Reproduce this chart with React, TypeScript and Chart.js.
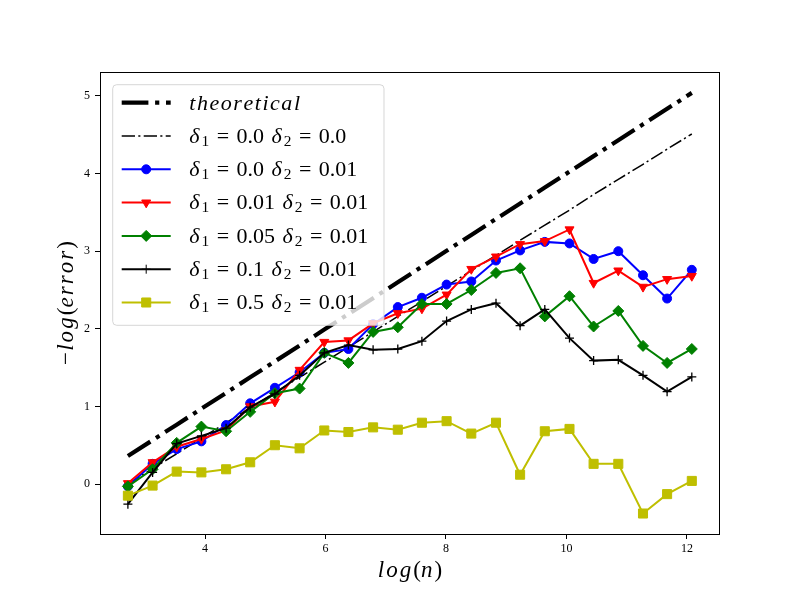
import React, { useEffect, useRef } from 'react';
import { Chart, registerables } from 'chart.js';

Chart.register(...registerables);

// ---- data ----
const logN = [2.72, 3.13, 3.53, 3.94, 4.35, 4.75, 5.16, 5.57, 5.98, 6.38, 6.79, 7.2, 7.6, 8.01, 8.42, 8.83, 9.23, 9.64, 10.05, 10.45, 10.86, 11.27, 11.67, 12.08];
const theoretical = [0.36, 0.565, 0.765, 0.97, 1.175, 1.375, 1.58, 1.785, 1.99, 2.19, 2.395, 2.6, 2.8, 3.005, 3.21, 3.415, 3.615, 3.82, 4.025, 4.225, 4.43, 4.635, 4.835, 5.04];
const d1_0_d2_0 = [0.0, 0.2, 0.39, 0.59, 0.79, 0.98, 1.18, 1.375, 1.57, 1.765, 1.96, 2.16, 2.35, 2.55, 2.75, 2.945, 3.14, 3.335, 3.53, 3.73, 3.925, 4.12, 4.315, 4.51];
const d1_0_d2_001 = [-0.03, 0.26, 0.45, 0.55, 0.76, 1.04, 1.24, 1.44, 1.69, 1.74, 2.06, 2.28, 2.4, 2.57, 2.61, 2.88, 3.01, 3.12, 3.1, 2.9, 3.0, 2.69, 2.39, 2.76];
const d1_001_d2_001 = [0.01, 0.28, 0.48, 0.58, 0.69, 1.0, 1.06, 1.47, 1.83, 1.85, 2.07, 2.2, 2.26, 2.44, 2.77, 2.93, 3.09, 3.13, 3.28, 2.59, 2.75, 2.54, 2.64, 2.68];
const d1_005_d2_001 = [-0.03, 0.19, 0.53, 0.74, 0.68, 0.93, 1.17, 1.23, 1.69, 1.56, 1.96, 2.02, 2.32, 2.32, 2.5, 2.72, 2.78, 2.16, 2.42, 2.03, 2.23, 1.78, 1.56, 1.74];
const d1_01_d2_001 = [-0.26, 0.15, 0.52, 0.62, 0.72, 0.99, 1.16, 1.4, 1.69, 1.79, 1.73, 1.74, 1.84, 2.1, 2.25, 2.33, 2.04, 2.25, 1.88, 1.59, 1.6, 1.4, 1.19, 1.38];
const d1_05_d2_001 = [-0.15, -0.02, 0.16, 0.15, 0.19, 0.28, 0.5, 0.46, 0.69, 0.67, 0.73, 0.7, 0.79, 0.81, 0.65, 0.79, 0.12, 0.68, 0.71, 0.26, 0.26, -0.38, -0.13, 0.04];

const xTickValues = [4, 6, 8, 10, 12];
const yTickValues = [0, 1, 2, 3, 4, 5];
const delta1Labels = ['0.0', '0.0', '0.01', '0.05', '0.1', '0.5'];
const delta2Labels = ['0.0', '0.01', '0.01', '0.01', '0.01', '0.01'];

const FONT = '"Liberation Serif", "DejaVu Serif", serif';

type Seg = { t: string; it?: boolean; sub?: boolean; pre?: number; post?: number };

function segFont(s: Seg, size: number) {
  return `${s.it ? 'italic ' : ''}${s.sub ? size * 0.7 : size}px ${FONT}`;
}
function segWidth(ctx: CanvasRenderingContext2D, s: Seg, size: number) {
  ctx.font = segFont(s, size);
  const ls = s.it ? 0.09 * size : 0;
  let w = 0;
  for (const ch of s.t) w += ctx.measureText(ch).width + ls;
  return w + ((s.pre || 0) + (s.post || 0)) * size;
}
function drawSegs(ctx: CanvasRenderingContext2D, segs: Seg[], x: number, y: number, size: number, align: 'left' | 'center', ls0 = 0.09) {
  let total = 0;
  for (const s of segs) total += segWidth(ctx, s, size);
  let cx = align === 'center' ? x - total / 2 : x;
  ctx.textAlign = 'left';
  ctx.textBaseline = 'alphabetic';
  ctx.fillStyle = '#000';
  for (const s of segs) {
    ctx.font = segFont(s, size);
    const ls = s.it ? ls0 * size : 0;
    cx += (s.pre || 0) * size;
    const yy = s.sub ? y + 0.13 * size : y;
    for (const ch of s.t) {
      ctx.fillText(ch, cx, yy);
      cx += ctx.measureText(ch).width + ls;
    }
    cx += (s.post || 0) * size;
  }
}

function drawMarker(ctx: CanvasRenderingContext2D, style: string, x: number, y: number, r: number, color: string) {
  ctx.save();
  ctx.fillStyle = color;
  ctx.strokeStyle = color;
  ctx.lineWidth = 1;
  ctx.setLineDash([]);
  ctx.beginPath();
  if (style === 'circle') {
    ctx.arc(x, y, r, 0, Math.PI * 2);
    ctx.fill();
    ctx.stroke();
  } else if (style === 'triangleDown') {
    ctx.moveTo(x, y + r);
    ctx.lineTo(x - r * 0.866, y - r * 0.5);
    ctx.lineTo(x + r * 0.866, y - r * 0.5);
    ctx.closePath();
    ctx.fill();
    ctx.stroke();
  } else if (style === 'diamond') {
    ctx.moveTo(x, y - r);
    ctx.lineTo(x + r, y);
    ctx.lineTo(x, y + r);
    ctx.lineTo(x - r, y);
    ctx.closePath();
    ctx.fill();
    ctx.stroke();
  } else if (style === 'rect') {
    const s = r * Math.SQRT1_2;
    ctx.rect(x - s, y - s, 2 * s, 2 * s);
    ctx.fill();
    ctx.stroke();
  } else if (style === 'cross') {
    ctx.moveTo(x, y - r);
    ctx.lineTo(x, y + r);
    ctx.moveTo(x - r, y);
    ctx.lineTo(x + r, y);
    ctx.stroke();
  }
  ctx.restore();
}

const THEO_DASH = [26.7, 6.7, 4.2, 6.7];
const THIN_DASH = [13.3, 3.3, 2.1, 3.3];

const seriesDefs = [
  { data: d1_0_d2_001, color: '#0000ff', style: 'circle', radius: 4.5 },
  { data: d1_001_d2_001, color: '#ff0000', style: 'triangle', radius: 5.2 },
  { data: d1_005_d2_001, color: '#008000', style: 'rectRot', radius: 5.5 },
  { data: d1_01_d2_001, color: '#000000', style: 'cross', radius: 4.5 },
  { data: d1_05_d2_001, color: '#bfbf00', style: 'rect', radius: 6.4 },
];
const legendMarkers = ['circle', 'triangleDown', 'diamond', 'cross', 'rect'];

const overlayPlugin = {
  id: 'overlay',
  afterDraw(chart: any) {
    const ctx: CanvasRenderingContext2D = chart.ctx;
    const a = chart.chartArea;
    ctx.save();
    // frame
    ctx.strokeStyle = '#000';
    ctx.lineWidth = 1;
    ctx.setLineDash([]);
    ctx.strokeRect(Math.round(a.left) + 0.5, Math.round(a.top) + 0.5, Math.round(a.right - a.left) - 1, Math.round(a.bottom - a.top));

    // axis titles
    drawSegs(ctx, [{ t: 'log', it: true }, { t: '(' }, { t: 'n', it: true }, { t: ')' }], (a.left + a.right) / 2, 577, 23, 'center');
    ctx.save();
    ctx.translate(73, (a.top + a.bottom) / 2);
    ctx.rotate(-Math.PI / 2);
    drawSegs(ctx, [{ t: '−', post: 0.05 }, { t: 'log', it: true }, { t: '(' }, { t: 'error', it: true }, { t: ')' }], 0, 0, 23, 'center');
    ctx.restore();

    // legend box
    const bx = 112.7, by = 84.7, bw = 271.3, bh = 240.6, br = 4;
    ctx.beginPath();
    ctx.moveTo(bx + br, by);
    ctx.arcTo(bx + bw, by, bx + bw, by + bh, br);
    ctx.arcTo(bx + bw, by + bh, bx, by + bh, br);
    ctx.arcTo(bx, by + bh, bx, by, br);
    ctx.arcTo(bx, by, bx + bw, by, br);
    ctx.closePath();
    ctx.fillStyle = 'rgba(255,255,255,0.8)';
    ctx.fill();
    ctx.strokeStyle = 'rgba(204,204,204,0.8)';
    ctx.lineWidth = 1;
    ctx.stroke();

    const hx0 = 121.7, hx1 = 170.7, tx = 189.3;
    const rowY = (i: number) => 102.7 + 33.3 * i;
    const fs = 22;
    // theoretical
    ctx.save();
    ctx.strokeStyle = '#000';
    ctx.lineWidth = 4.2;
    ctx.lineCap = 'butt';
    ctx.setLineDash(THEO_DASH);
    ctx.beginPath();
    ctx.moveTo(hx0, rowY(0));
    ctx.lineTo(hx1, rowY(0));
    ctx.stroke();
    ctx.restore();
    drawSegs(ctx, [{ t: 'theoretical', it: true }], tx, rowY(0) + 6.8, fs, 'left', 0.07);

    for (let i = 0; i < 6; i++) {
      const y = rowY(i + 1);
      ctx.save();
      ctx.lineCap = 'butt';
      if (i === 0) {
        ctx.strokeStyle = '#000';
        ctx.lineWidth = 1.5;
        ctx.setLineDash(THIN_DASH);
      } else {
        ctx.strokeStyle = seriesDefs[i - 1].color;
        ctx.lineWidth = 2;
        ctx.setLineDash([]);
      }
      ctx.beginPath();
      ctx.moveTo(hx0, y);
      ctx.lineTo(hx1, y);
      ctx.stroke();
      ctx.restore();
      if (i > 0) {
        const sd = seriesDefs[i - 1];
        drawMarker(ctx, legendMarkers[i - 1], (hx0 + hx1) / 2, y, sd.radius, sd.color);
      }
      drawSegs(
        ctx,
        [
          { t: 'δ', it: true },
          { t: '1', sub: true },
          { t: '=', pre: 0.34, post: 0.34 },
          { t: delta1Labels[i] },
          { t: 'δ', it: true, pre: 0.34 },
          { t: '2', sub: true },
          { t: '=', pre: 0.34, post: 0.34 },
          { t: delta2Labels[i] },
        ],
        tx,
        y + 6.8,
        fs,
        'left'
      );
    }
    ctx.restore();
  },
};

export default function App() {
  const ref = useRef<HTMLCanvasElement | null>(null);
  useEffect(() => {
    if (!ref.current) return;
    const pts = (arr: number[]) => logN.map((x, i) => ({ x, y: arr[i] }));
    const datasets: any[] = [
      {
        data: pts(theoretical),
        borderColor: '#000',
        borderWidth: 4.2,
        borderDash: THEO_DASH,
        borderCapStyle: 'butt',
        pointRadius: 0,
        order: 20,
      },
      {
        data: pts(d1_0_d2_0),
        borderColor: '#000',
        borderWidth: 1.5,
        borderDash: THIN_DASH,
        borderCapStyle: 'butt',
        pointRadius: 0,
        order: 19,
      },
      ...seriesDefs.map((s, i) => ({
        data: pts(s.data),
        borderColor: s.color,
        backgroundColor: s.color,
        borderWidth: 2,
        pointStyle: s.style,
        pointRotation: s.style === 'triangle' ? 180 : 0,
        pointRadius: s.radius,
        pointBackgroundColor: s.color,
        pointBorderColor: s.color,
        pointBorderWidth: s.style === 'cross' ? 1.3 : 1,
        order: 18 - i,
      })),
    ];
    const chart = new Chart(ref.current, {
      type: 'line',
      data: { datasets },
      options: {
        animation: false,
        responsive: false,
        devicePixelRatio: 1,
        layout: { padding: { left: 60, right: 80, top: 72, bottom: 36 } },
        plugins: { legend: { display: false }, tooltip: { enabled: false } },
        scales: {
          x: {
            type: 'linear',
            min: 2.257,
            max: 12.548,
            afterFit: (s: any) => {
              s.height = 30;
            },
            afterBuildTicks: (s: any) => {
              s.ticks = xTickValues.map((v) => ({ value: v }));
            },
            ticks: { font: { family: FONT, size: 12 }, color: '#000', padding: 3, maxRotation: 0, autoSkip: false },
            grid: { display: true, drawOnChartArea: false, drawTicks: true, tickLength: 5, tickColor: '#000', tickWidth: 1 },
            border: { display: false },
          },
          y: {
            type: 'linear',
            min: -0.644,
            max: 5.309,
            afterFit: (s: any) => {
              s.width = 40;
            },
            afterBuildTicks: (s: any) => {
              s.ticks = yTickValues.map((v) => ({ value: v }));
            },
            ticks: { font: { family: FONT, size: 12 }, color: '#000', padding: 5, autoSkip: false },
            grid: { display: true, drawOnChartArea: false, drawTicks: true, tickLength: 5, tickColor: '#000', tickWidth: 1 },
            border: { display: false },
          },
        },
      } as any,
      plugins: [overlayPlugin],
    });
    return () => chart.destroy();
  }, []);
  return (
    <div style={{ position: 'absolute', left: 0, top: 0, width: 800, height: 600, background: '#fff' }}>
      <canvas ref={ref} width={800} height={600} style={{ display: 'block' }} />
    </div>
  );
}
